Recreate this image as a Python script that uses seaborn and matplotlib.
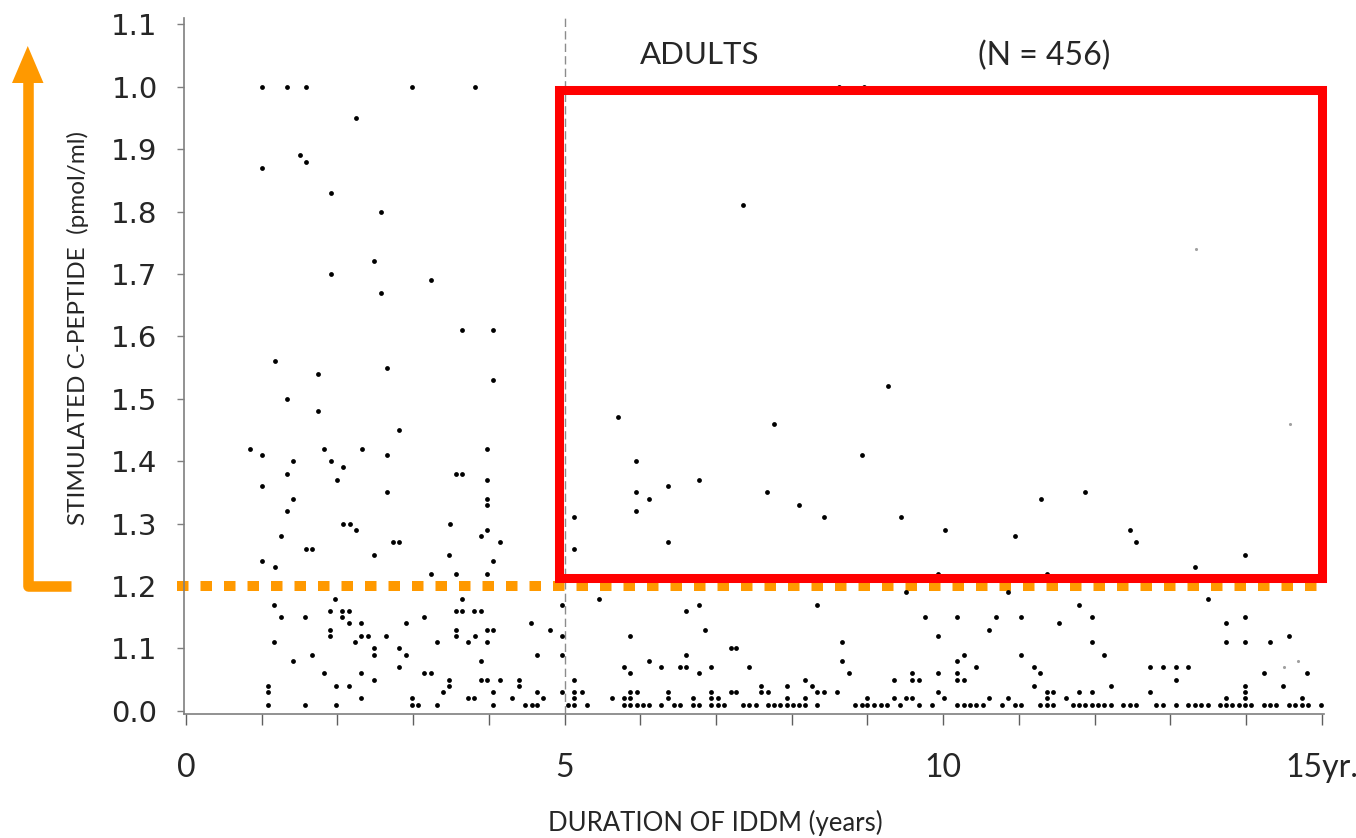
import matplotlib.pyplot as plt
import seaborn as sns
import pandas as pd
from matplotlib.lines import Line2D
from matplotlib.patches import Polygon, Rectangle

# --- data (duration in years, C-peptide) ---
# children / young, above the 0.2 cut-off
young_hi_x = [1.01, 1.34, 1.59, 2.99, 3.82,
              2.25, 1.50, 1.59, 1.01, 1.91, 2.57,
              2.48, 1.91, 3.23, 2.57, 3.65, 4.06,
              1.17, 1.74, 2.65, 4.06, 1.33, 1.74, 2.81,
              0.84, 1.01, 1.42, 1.82, 2.32, 2.65, 1.91, 3.97,
              2.07, 1.33, 1.99, 3.57, 3.65, 3.97,
              1.01, 2.65, 1.42, 3.98, 3.98, 1.33,
              2.07, 2.16, 3.49, 2.24, 3.97, 1.25, 3.90,
              1.58, 1.66, 2.73, 2.81, 4.15, 2.48, 3.48,
              1.01, 4.06, 1.17, 3.23, 3.57, 3.97]
young_hi_y = [1.00, 1.00, 1.00, 1.00, 1.00,
              0.95, 0.89, 0.88, 0.87, 0.83, 0.80,
              0.72, 0.70, 0.69, 0.67, 0.61, 0.61,
              0.56, 0.54, 0.55, 0.53, 0.50, 0.48, 0.45,
              0.42, 0.41, 0.40, 0.42, 0.42, 0.41, 0.40, 0.42,
              0.39, 0.38, 0.37, 0.38, 0.38, 0.37,
              0.36, 0.35, 0.34, 0.34, 0.33, 0.32,
              0.30, 0.30, 0.30, 0.29, 0.29, 0.28, 0.28,
              0.26, 0.26, 0.27, 0.27, 0.27, 0.25, 0.25,
              0.24, 0.24, 0.23, 0.22, 0.22, 0.22]

# adults, above the 0.2 cut-off
adult_hi_x = [8.62, 8.96, 7.36, 9.27, 5.70, 7.77, 8.93, 5.95,
              6.77, 6.36, 5.95, 7.68, 11.88, 6.12, 11.29, 8.10,
              5.95, 5.13, 8.43, 9.44, 10.02, 12.47, 10.95,
              6.36, 12.55, 5.12, 13.99, 13.32, 9.93, 11.37]
adult_hi_y = [1.00, 1.00, 0.81, 0.52, 0.47, 0.46, 0.41, 0.40,
              0.37, 0.36, 0.35, 0.35, 0.35, 0.34, 0.34, 0.33,
              0.32, 0.31, 0.31, 0.31, 0.29, 0.29, 0.28,
              0.27, 0.27, 0.26, 0.25, 0.23, 0.22, 0.22]

# below the cut-off, 1-2.5 years
low_a_x = [1.97, 1.16, 1.90, 2.06, 2.15, 1.25, 1.57, 2.06,
           2.15, 2.31, 1.90, 1.90, 2.31, 2.40, 1.16, 2.23,
           2.48, 2.48, 1.66, 1.41, 1.82, 2.31, 2.48,
           1.08, 1.98, 2.15, 1.08, 2.31, 1.08, 1.57, 1.98]
low_a_y = [0.18, 0.17, 0.16, 0.16, 0.16, 0.15, 0.15, 0.15,
           0.14, 0.14, 0.13, 0.12, 0.12, 0.12, 0.11, 0.11,
           0.10, 0.09, 0.09, 0.08, 0.06, 0.06, 0.05,
           0.04, 0.04, 0.04, 0.03, 0.02, 0.01, 0.01, 0.01]

# below the cut-off, 2.6-5.2 years
low_b_x = [3.65, 3.57, 3.65, 3.81, 3.90, 3.15, 2.90, 4.56,
           4.81, 4.96, 3.98, 4.06, 3.57, 3.57, 3.82, 2.64, 4.97,
           3.32, 3.73, 3.98, 2.81, 2.90, 4.64, 4.97,
           3.90, 2.81, 3.15, 3.23, 3.90, 3.98, 4.15, 4.40, 3.48, 5.13,
           3.48, 4.40, 3.40, 4.06, 4.64, 5.13, 4.97,
           2.98, 3.73, 3.81, 4.31, 4.72, 5.13,
           2.98, 3.07, 3.32, 4.06, 4.48, 4.57, 4.64, 5.05, 5.13]
low_b_y = [0.18, 0.16, 0.16, 0.16, 0.16, 0.15, 0.14, 0.14,
           0.13, 0.17, 0.13, 0.13, 0.13, 0.12, 0.12, 0.12, 0.12,
           0.11, 0.11, 0.11, 0.10, 0.09, 0.09, 0.09,
           0.08, 0.07, 0.06, 0.06, 0.05, 0.05, 0.05, 0.05, 0.05, 0.05,
           0.04, 0.04, 0.03, 0.03, 0.03, 0.03, 0.03,
           0.02, 0.02, 0.02, 0.02, 0.02, 0.02,
           0.01, 0.01, 0.01, 0.01, 0.01, 0.01, 0.01, 0.01, 0.01]

# below the cut-off, 5.2-7.7 years
low_c_x = [5.46, 6.78, 6.61, 6.86, 5.87, 7.20, 7.27, 6.61, 6.12,
           5.79, 6.28, 6.53, 6.61, 6.94, 7.44, 5.87, 6.78, 7.60,
           5.23, 5.87, 5.96, 6.36, 6.94, 7.20, 7.27, 7.60, 7.69,
           5.63, 5.79, 5.87, 6.36, 6.69, 6.94, 7.02,
           5.30, 5.79, 5.87, 5.96, 6.04, 6.12, 6.28, 6.45, 6.53,
           6.69, 6.78, 6.94, 7.02, 7.11, 7.36, 7.44, 7.53, 7.69]
low_c_y = [0.18, 0.17, 0.16, 0.13, 0.12, 0.10, 0.10, 0.09, 0.08,
           0.07, 0.07, 0.07, 0.07, 0.07, 0.07, 0.06, 0.06, 0.04,
           0.03, 0.03, 0.03, 0.03, 0.03, 0.03, 0.03, 0.03, 0.03,
           0.02, 0.02, 0.02, 0.02, 0.02, 0.02, 0.02,
           0.01, 0.01, 0.01, 0.01, 0.01, 0.01, 0.01, 0.01, 0.01,
           0.01, 0.01, 0.01, 0.01, 0.01, 0.01, 0.01, 0.01, 0.01]

# below the cut-off, 7.7-10.2 years
low_d_x = [9.51, 8.34, 9.76, 10.18, 8.67, 9.93, 10.18, 8.67,
           8.76, 9.59, 9.93, 10.18, 8.18, 9.35, 9.59, 9.68, 10.18,
           7.94, 8.27, 8.34, 8.43, 8.60, 9.93,
           7.94, 8.18, 9.00, 9.35, 9.51, 9.59, 10.01,
           7.77, 7.85, 7.94, 8.02, 8.10, 8.18, 8.34,
           8.84, 8.93, 9.00, 9.09, 9.18, 9.26, 9.43, 9.68, 9.85, 10.18]
low_d_y = [0.19, 0.17, 0.15, 0.15, 0.11, 0.12, 0.08, 0.08,
           0.06, 0.06, 0.06, 0.06, 0.05, 0.05, 0.05, 0.05, 0.05,
           0.04, 0.04, 0.03, 0.03, 0.03, 0.03,
           0.02, 0.02, 0.02, 0.02, 0.02, 0.02, 0.02,
           0.01, 0.01, 0.01, 0.01, 0.01, 0.01, 0.01,
           0.01, 0.01, 0.01, 0.01, 0.01, 0.01, 0.01, 0.01, 0.01, 0.01]

# below the cut-off, 10.2-12.7 years
low_e_x = [10.86, 11.79, 10.70, 11.03, 11.96, 11.53, 10.61, 11.96,
           10.27, 11.03, 12.13, 10.44, 11.20, 12.73, 11.28, 10.27,
           11.20, 12.22, 11.37, 11.45, 11.79, 11.96, 12.73,
           10.61, 10.86, 11.37, 11.62,
           10.27, 10.36, 10.44, 10.52, 10.78, 10.95, 11.03,
           11.28, 11.37, 11.45, 11.71, 11.79, 11.88, 11.96, 12.05, 12.13, 12.22,
           12.38, 12.47, 12.55]
low_e_y = [0.19, 0.17, 0.15, 0.15, 0.15, 0.14, 0.13, 0.11,
           0.09, 0.09, 0.09, 0.07, 0.07, 0.07, 0.06, 0.05,
           0.04, 0.04, 0.03, 0.03, 0.03, 0.03, 0.03,
           0.02, 0.02, 0.02, 0.02,
           0.01, 0.01, 0.01, 0.01, 0.01, 0.01, 0.01,
           0.01, 0.01, 0.01, 0.01, 0.01, 0.01, 0.01, 0.01, 0.01, 0.01,
           0.01, 0.01, 0.01]

# below the cut-off, 12.7-15 years
low_f_x = [13.50, 13.99, 13.74, 14.57, 13.74, 13.99, 14.32,
           12.90, 13.07, 13.24, 14.24, 14.81, 13.07, 13.99, 14.49,
           13.99, 13.74, 13.99, 14.74,
           12.81, 12.90, 13.07, 13.24, 13.32, 13.41, 13.50, 13.65, 13.74,
           13.82, 13.91, 13.99, 14.07, 14.24, 14.32, 14.40, 14.57, 14.65,
           14.74, 14.82, 14.99]
low_f_y = [0.18, 0.15, 0.14, 0.12, 0.11, 0.11, 0.11,
           0.07, 0.07, 0.07, 0.06, 0.06, 0.05, 0.04, 0.04,
           0.03, 0.02, 0.02, 0.02,
           0.01, 0.01, 0.01, 0.01, 0.01, 0.01, 0.01, 0.01, 0.01,
           0.01, 0.01, 0.01, 0.01, 0.01, 0.01, 0.01, 0.01, 0.01,
           0.01, 0.01, 0.01]

# faint (poorly printed) dots
faint_x = [13.34, 14.58, 14.69, 14.50]
faint_y = [0.74, 0.46, 0.08, 0.07]

y_ticks = [0.0, 0.1, 0.2, 0.3, 0.4, 0.5, 0.6, 0.7, 0.8, 0.9, 1.0, 1.1]
y_tick_labels = ["0.0", "1.1", "1.2", "1.3", "1.4", "1.5",
                 "1.6", "1.7", "1.8", "1.9", "1.0", "1.1"]
x_ticks = list(range(16))
x_tick_labels = ["0", "", "", "", "", "5", "", "", "", "", "10",
                 "", "", "", "", "15yr."]

W, H = 1356, 838


def fig_xy(px, py):
  # pixel position -> figure fraction
  return px / W, 1 - py / H


sns.set_theme(style="white")
plt.rcParams['font.family'] = ['DejaVu Sans']

fig = plt.figure(figsize=(13.56, 8.38), dpi=100)
ax = fig.add_axes([184 / W, 1 - 714 / H, 1140 / W, 696 / H])

df = pd.DataFrame({
  'duration': young_hi_x + adult_hi_x + low_a_x + low_b_x + low_c_x + low_d_x + low_e_x + low_f_x,
  'cpeptide': young_hi_y + adult_hi_y + low_a_y + low_b_y + low_c_y + low_d_y + low_e_y + low_f_y,
})
sns.scatterplot(data=df, x='duration', y='cpeptide', ax=ax, color='black',
                s=12, linewidth=0, zorder=3)
sns.scatterplot(x=faint_x, y=faint_y, ax=ax, color='#a0a0a0', s=5,
                linewidth=0, zorder=3)

ax.set_xlim(-0.026, 15.03)
ax.set_ylim(-0.005, 1.11)

# 5-year divider and the 0.2 cut-off
ax.axvline(5, color='#8c8c8c', lw=1.0, ls=(0, (6, 3)), zorder=1)
ax.plot([-0.12, 15.0], [0.2, 0.2], color='#ff9900', lw=7.2, dashes=(1.15, 1.2),
        dash_capstyle='butt', clip_on=False, zorder=2)

# highlighted adult region
ax.add_patch(Rectangle((4.93, 0.213), 15.01 - 4.93, 0.994 - 0.213, fill=False,
                       edgecolor='#ff0000', lw=6.5, joinstyle='miter',
                       clip_on=False, zorder=4))

ax.text(6.0, 1.05, "ADULTS", fontsize=22.5, family='Lato', ha='left', va='center')
ax.text(10.46, 1.05, "(N = 456)", fontsize=23, family='Lato', ha='left', va='center')

ax.set_yticks(y_ticks)
ax.set_yticklabels(y_tick_labels, fontsize=21)
ax.set_xticks(x_ticks)
ax.set_xticklabels(x_tick_labels, fontsize=23, family='Lato')
ax.tick_params(axis='y', left=True, direction='out', length=5, width=1,
               color='#7f7f7f', pad=14)
ax.tick_params(axis='x', bottom=True, direction='out', length=8, width=1,
               color='#5f5f5f', pad=20)

for side in ['top', 'right']:
  ax.spines[side].set_visible(False)
for side in ['left', 'bottom']:
  ax.spines[side].set_color('#7f7f7f')
  ax.spines[side].set_linewidth(1.2)

ax.set_ylabel("STIMULATED C-PEPTIDE  (pmol/ml)", fontsize=17.5, family='Lato', va='center')
ax.yaxis.set_label_coords((78 - 184) / 1140, (714 - 328) / 696)
ax.set_xlabel("DURATION OF IDDM (years)", fontsize=18.5, family='Lato', va='center')
ax.xaxis.set_label_coords((715 - 184) / 1140, (714 - 823) / 696)

# orange L-shaped arrow on the left
corner = fig_xy(28, 585.5)
fig.add_artist(Line2D([70.7 / W, corner[0], corner[0]],
                      [corner[1], corner[1], 1 - 82 / H],
                      transform=fig.transFigure, color='#ff9900', lw=7.6,
                      solid_joinstyle='round', solid_capstyle='butt'))
fig.add_artist(Polygon([fig_xy(12, 83), fig_xy(43.5, 83), fig_xy(27.75, 46)],
                       closed=True, transform=fig.transFigure,
                       facecolor='#ff9900', edgecolor='none'))

fig.savefig('out.png', dpi=100)
